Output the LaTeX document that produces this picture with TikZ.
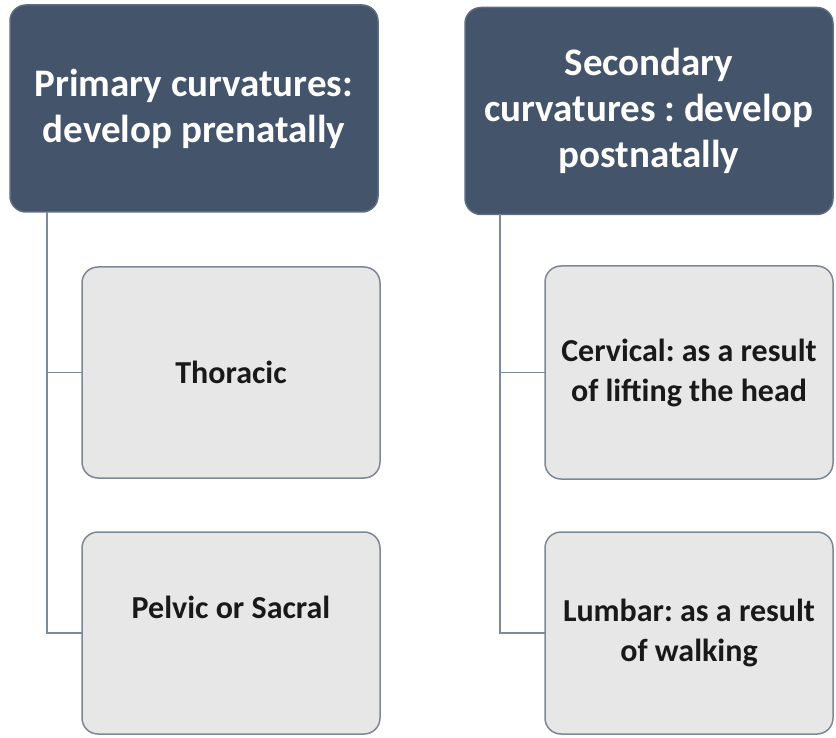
\documentclass[tikz,border=0pt]{standalone}
\usepackage{fontspec}
\setmainfont{Carlito}
\usepackage{xcolor}
\usetikzlibrary{positioning}
\definecolor{slate}{HTML}{44546A}
\definecolor{slateline}{HTML}{5C6C82}
\definecolor{leafgray}{HTML}{E7E7E7}
\definecolor{leafline}{HTML}{7C8898}
\definecolor{linkgray}{HTML}{7D8A9C}
\frenchspacing

\begin{document}
\begin{tikzpicture}[x=1pt,y=-1pt, every node/.style={align=center,inner sep=0pt,outer sep=0pt},
  head/.style={rounded corners=16pt,draw=slateline,line width=1.5pt,fill=slate,text=white,
    font=\fontsize{39}{46}\selectfont\bfseries,minimum width=368pt,minimum height=207pt},
  leaf/.style={rounded corners=16pt,draw=leafline,line width=1.5pt,fill=leafgray,text=black!90,
    font=\fontsize{32}{40}\selectfont\bfseries,minimum height=207pt},
  link/.style={draw=linkgray,line width=1.8pt}]
  \useasboundingbox (0,0) rectangle (836,738);
  % left column
  \node[head] (primary) at (194,108.5) {Primary curvatures:\\develop prenatally};
  \node[leaf,minimum width=298pt,minimum height=211pt] (thoracic) at (231,372.5) {Thoracic};
  \node[leaf,minimum width=298pt,minimum height=202pt] (pelvic) at (231,633) {Pelvic or Sacral\\[12pt]~};
  % right column
  \node[head] (secondary) at (649,111) {Secondary\\curvatures : develop\\postnatally};
  \node[leaf,minimum width=288pt,minimum height=213pt] (cervical) at (689,372.5) {Cervical: as a result\\of lifting the head};
  \node[leaf,minimum width=288pt,minimum height=202pt] (lumbar) at (689,633) {Lumbar: as a result\\of walking};
  % trunks
  \coordinate[xshift=37pt] (ltrunk) at (primary.south west);
  \coordinate[xshift=35pt] (rtrunk) at (secondary.south west);
  \draw[link] (ltrunk) |- (thoracic.west);
  \draw[link] (ltrunk) |- (pelvic.west);
  \draw[link] (rtrunk) |- (cervical.west);
  \draw[link] (rtrunk) |- (lumbar.west);
\end{tikzpicture}
\end{document}
